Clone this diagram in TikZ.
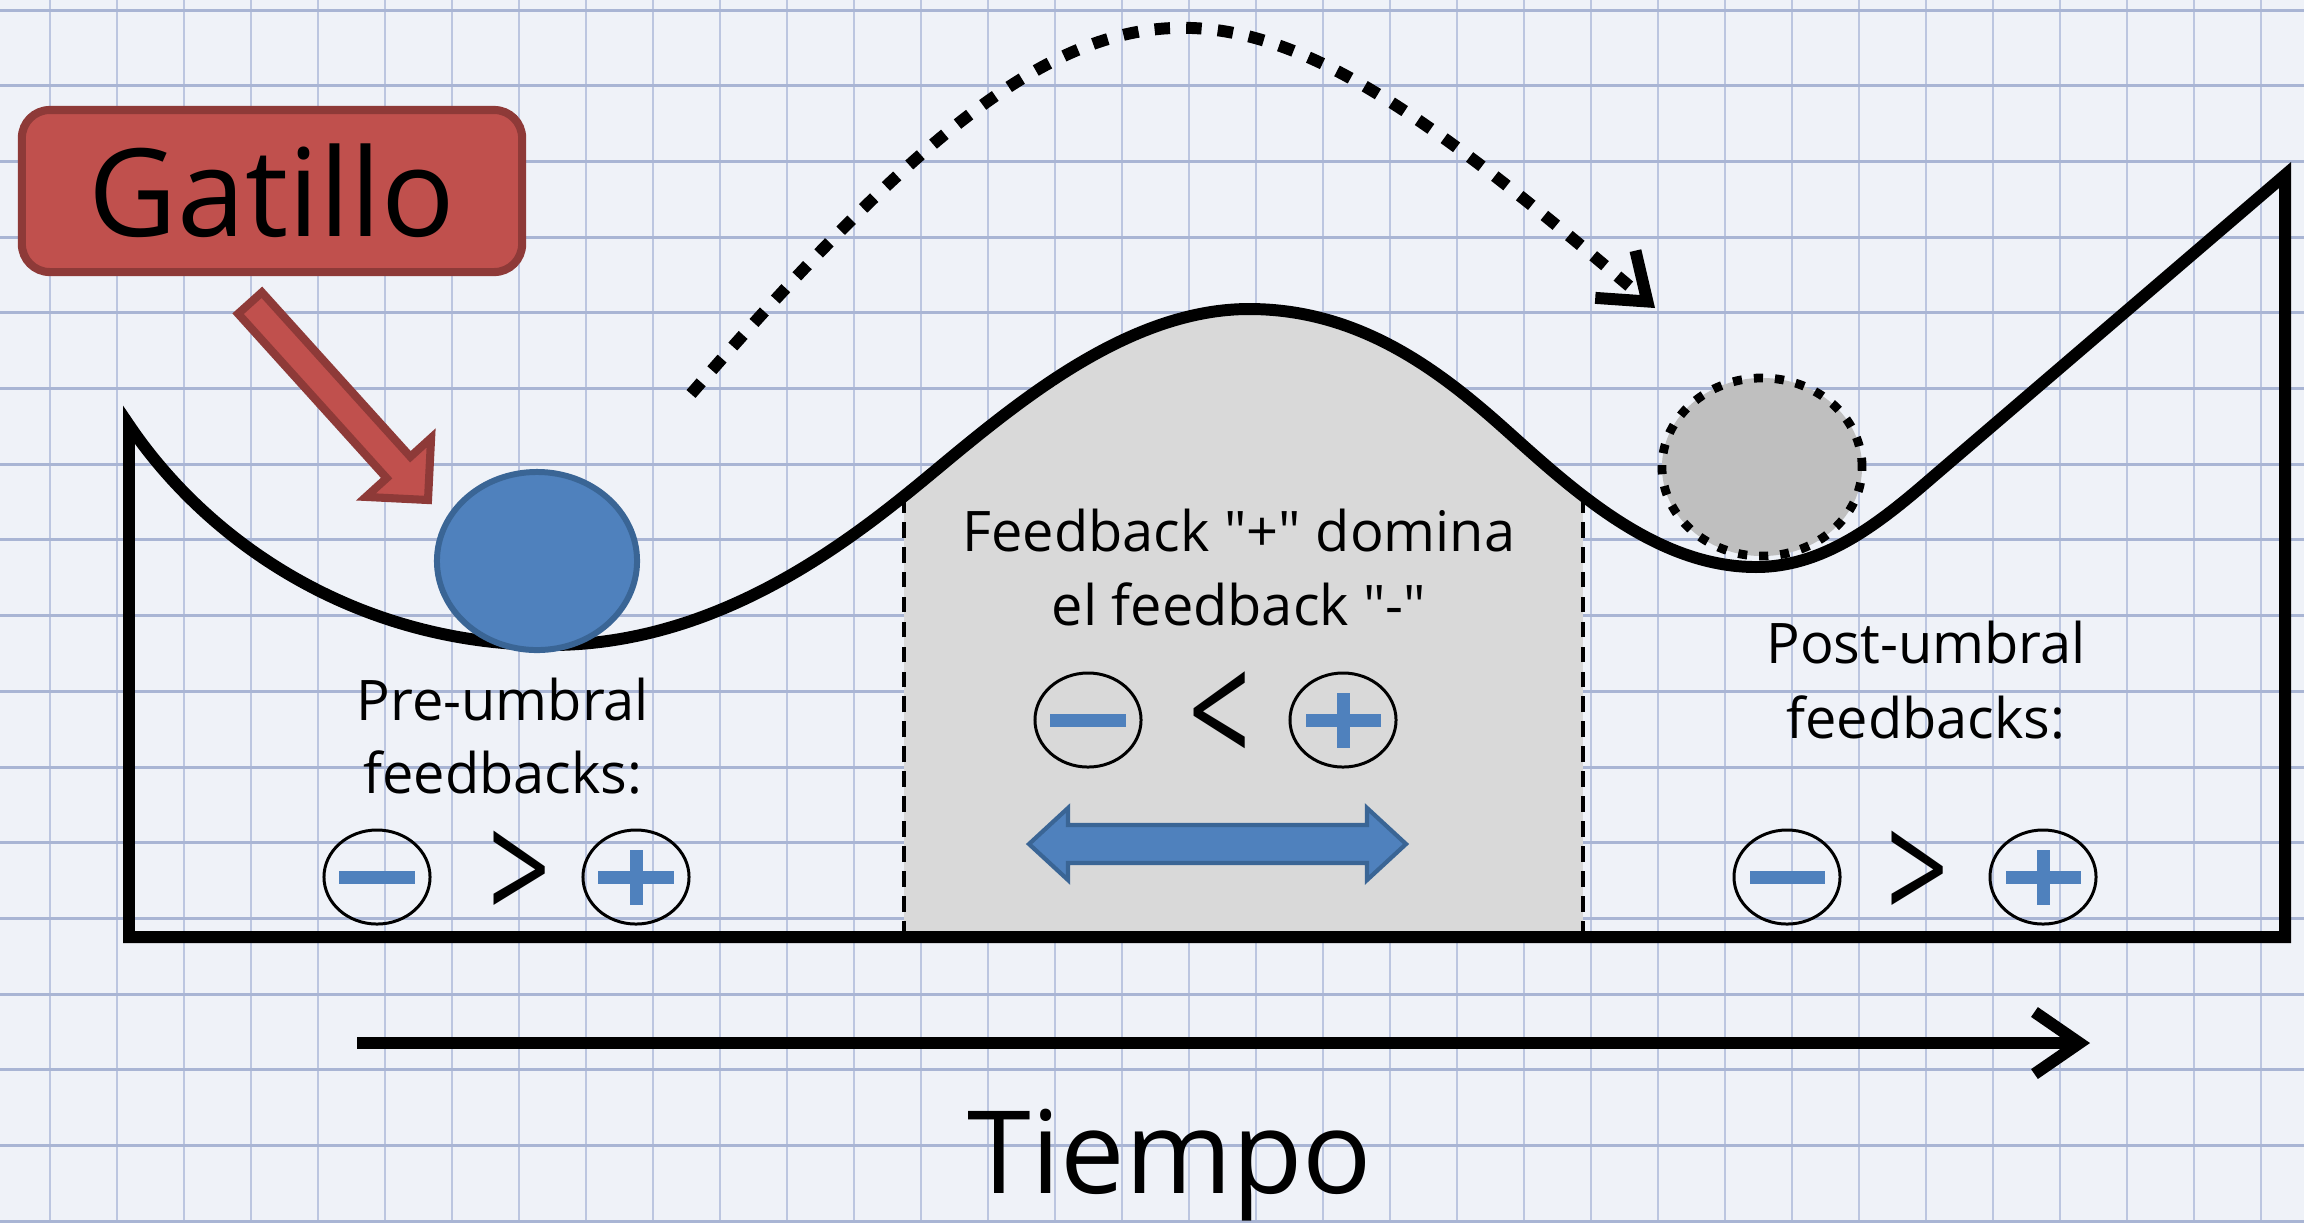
\documentclass[tikz,border=0pt]{standalone}
\usepackage{fontspec}
\setmainfont{Open Sans}
\newfontfamily\uifont{Open Sans}
\usetikzlibrary{arrows.meta,shapes.geometric}

\definecolor{paper}{HTML}{EFF2F8}
\definecolor{gridh}{HTML}{A9B5D4}
\definecolor{gridv}{HTML}{BCC6E0}
\definecolor{trigfill}{HTML}{C0504D}
\definecolor{trigedge}{HTML}{8E3A38}
\definecolor{ballblue}{HTML}{4F81BD}
\definecolor{balledge}{HTML}{3A6595}
\definecolor{zonegray}{HTML}{D9D9D9}
\definecolor{ghostgray}{HTML}{BFBFBF}

% outline of the landscape: left wall, valley-hill-valley curve, right wall, floor
\def\valleyoutline{(129,937) -- (129,425)
  .. controls (210,545) and (360,645) .. (550,645)
  .. controls (740,645) and (883,513) .. (960,450)
  .. controls (1037,387) and (1139,309) .. (1249,309)
  .. controls (1359,309) and (1439,370) .. (1506,430)
  .. controls (1573,490) and (1656,567) .. (1756,567)
  .. controls (1826,567) and (1882,521) .. (1935,475)
  -- (2285,175) -- (2285,937) -- cycle}

\begin{document}
\begin{tikzpicture}[x=0.01cm,y=-0.01cm,
  gridlineh/.style={gridh, line width=0.85pt},
  gridlinev/.style={gridv, line width=0.55pt},
  ground/.style={line width=3.4pt, line join=miter, miter limit=4},
  zoneedge/.style={line width=1.3pt, dash pattern=on 4.5pt off 2.6pt},
  trigger/.style={rounded corners=0.28cm, fill=trigfill, draw=trigedge, line width=2.3pt,
    minimum width=5.0cm, minimum height=1.62cm, inner sep=0pt,
    font=\uifont\fontsize{34.7}{40}\selectfont},
  ball/.style={ellipse, minimum width=2.0cm, minimum height=1.78cm, inner sep=0pt},
  caption/.style={anchor=base, inner sep=0pt, font=\uifont\fontsize{15.9}{20}\selectfont},
  signring/.style={ellipse, draw, line width=0.85pt, minimum width=1.06cm,
    minimum height=0.94cm, inner sep=0pt},
  minussign/.style={signring, path picture={
    \fill[ballblue] ([xshift=-0.375cm,yshift=-0.065cm]path picture bounding box.center)
      rectangle ++(0.75cm,0.13cm);}},
  plussign/.style={signring, path picture={
    \fill[ballblue] ([xshift=-0.375cm,yshift=-0.065cm]path picture bounding box.center)
      rectangle ++(0.75cm,0.13cm);
    \fill[ballblue] ([xshift=-0.065cm,yshift=-0.275cm]path picture bounding box.center)
      rectangle ++(0.13cm,0.55cm);}},
  relation/.style={inner sep=0pt, font=\uifont\fontsize{31}{31}\selectfont},
  jump/.style={line width=3.4pt, dash pattern=on 4.4pt off 4.6pt,
    -{Straight Barb[length=0.42cm,width=0.62cm]}},
  timeaxis/.style={line width=3.4pt, -{Straight Barb[length=0.45cm,width=0.62cm]}},
  blockarrow/.style={line join=miter}
]
\useasboundingbox (0,0) rectangle (2304,1223);

% squared paper
\fill[paper] (0,0) rectangle (2304,1223);
\foreach \k in {0,...,33} \draw[gridlinev] ({50+67*\k},0) -- ({50+67*\k},1223);
\foreach \k in {0,...,16} \draw[gridlineh] (0,{10+75.7*\k}) -- (2304,{10+75.7*\k});

% shaded transition zone under the hill
\begin{scope}
  \clip \valleyoutline;
  \fill[zonegray] (904,0) rectangle (1583,940);
  \draw[zoneedge] (904,937) -- (904,300);
  \draw[zoneedge] (1583,937) -- (1583,300);
\end{scope}

% landscape outline
\draw[ground] \valleyoutline;

% balls
\node[ball, fill=ballblue, draw=balledge, line width=1.7pt] (ball) at (537,561) {};
\node[ball, fill=ghostgray, draw=black, line width=2.5pt, dash pattern=on 2.6pt off 3.4pt] (ghost) at (1762,467) {};

% trigger label and its block arrow
\node[trigger] (trigger) at (272,191) {Gatillo};
\fill[trigfill, draw=trigedge, line width=2.3pt, blockarrow]
  (261.9,292.3) -- (410.4,456.7) -- (431.1,437.9) -- (428,500) -- (365.9,496.9)
  -- (386.6,478.1) -- (238.1,313.7) -- cycle;

% jump over the threshold
\coordinate (jumpStart) at (691,394);
\coordinate (jumpEnd) at (1655,308);
\draw[jump] (jumpStart) .. controls (1114,-92) and (1219,-63) .. (jumpEnd);

% pre-threshold feedbacks
\node[caption] (preA) at (503,720) {Pre-umbral};
\node[caption] (preB) at (503,793) {feedbacks:};
\node[minussign] (preMinus) at (377,877) {};
\node[relation] (preRel) at (520,877) {\scalebox{1}[1.4]{>}};
\node[plussign] (prePlus) at (636,877) {};

% transition zone
\node[caption] (zoneA) at (1239,551) {Feedback "+" domina};
\node[caption] (zoneB) at (1239,625) {el feedback "-"};
\node[minussign] (zoneMinus) at (1088,720) {};
\node[relation] (zoneRel) at (1220,720) {\scalebox{1}[1.45]{<}};
\node[plussign] (zonePlus) at (1343,720) {};
\fill[ballblue, draw=balledge, line width=1.2pt, blockarrow]
  (1029,844) -- (1068,808) -- (1068,825) -- (1367,825) -- (1367,808) -- (1406,844)
  -- (1367,880) -- (1367,863) -- (1068,863) -- (1068,880) -- cycle;

% post-threshold feedbacks
\node[caption] (postA) at (1926,663) {Post-umbral};
\node[caption] (postB) at (1926,738) {feedbacks:};
\node[minussign] (postMinus) at (1787,877) {};
\node[relation] (postRel) at (1918,877) {\scalebox{1}[1.4]{>}};
\node[plussign] (postPlus) at (2043,877) {};

% time axis
\coordinate (timeStart) at (357,1043);
\coordinate (timeEnd) at (2090,1043);
\draw[timeaxis] (timeStart) -- (timeEnd);
\node[anchor=base, inner sep=0pt, font=\uifont\fontsize{32.7}{36}\selectfont] (timeLabel) at (1170,1193) {Tiempo};
\end{tikzpicture}
\end{document}
